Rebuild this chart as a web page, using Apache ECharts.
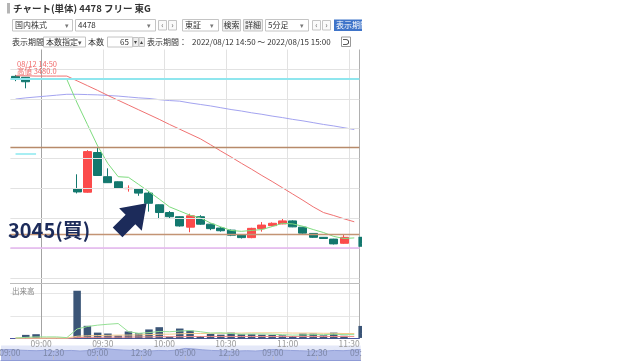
<!DOCTYPE html>
<html><head><meta charset="utf-8">
<script src="https://cdn.jsdelivr.net/npm/echarts@6/dist/echarts.min.js"></script>
<style>html,body{margin:0;padding:0;background:#fff;width:640px;height:364px;overflow:hidden}
#c{position:absolute;left:0;top:0;width:362px;height:364px;}</style></head>
<body><div id="c"></div>
<script>
// ---- data ----
const categories = ['14:50','14:55','15:00','09:00','09:05','09:10','09:15','09:20','09:25','09:30','09:35','09:40','09:45','09:50','09:55','10:00','10:05','10:10','10:15','10:20','10:25','10:30','10:35','10:40','10:45','10:50','10:55','11:00','11:05','11:10','11:15','11:20','11:25','11:30'];
const openP  = [3475,3472,3466,null,null,null,3099,3087,3220,3139,3122,3099,3098,3084,3045,3019,3005,2970,3005,2980,2967,2960,2945,2935,2965,2975,2981,2991,2970,2949,2936,2930,2916,null];
const closeP = [3465,3457,3466,null,null,null,3088,3223,3143,3119,3100,3100,3084,3050,3019,3005,2974,3008,2980,2965,2958,2943,2935,2966,2977,2983,2991,2971,2950,2936,2932,2914,2936,null];
const lowP   = [3459,3435,3466,null,null,null,3083,3085,3142,3118,3099,3089,3075,3022,2997,2999,2972,2953,2978,2960,2955,2940,2932,2933,2955,2973,2980,2970,2948,2934,2931,2912,2914,null];
const highP  = [3480,3473,3466,null,null,null,3147,3228,3238,3167,3123,3110,3099,3090,3046,3024,3006,3015,3010,2982,2970,2962,2946,2968,2987,2986,3000,2993,2971,2950,2937,2931,2947,null];
const maShort = [3466,3465,3465,3465,3465,3465,3386,3314,3242,3183,3139,3137,3113,3089,3064,3038,3024,3010,3001,2984,2971,2959,2956,2959,2962,2972,2983,2981,2973,2962,2952,2939,2932,2934];
const maMid   = [3477,3477,3476,3476,3476,3476,3460,3444,3428,3411,3395,3379,3363,3347,3331,3314,3298,3282,3266,3246,3225,3205,3184,3164,3143,3123,3102,3081,3060,3038,3019,3009,2998,2988];
const maLong  = [3399,3403,3406,3409,3412,3415,3415,3414,3413,3411,3409,3406,3403,3401,3397,3394,3392,3386,3381,3376,3370,3364,3359,3353,3348,3342,3337,3331,3326,3320,3314,3309,3303,3297];
const volume  = [0,16,19,null,null,null,211,56,26,22,13,31,23,40,50,8,44,35,11,20,17,26,19,19,17,16,14,11,22,22,14,26,12,null];
const volMaShort = [2,5,7,7,7,4,42,53,59,63,66,30,23,26,31,30,33,35,30,24,25,22,19,20,20,19,17,15,16,17,17,19,17,17];
const volMaMid   = [2,2,2,2,2,2,10,12,13,14,15,15,16,17,19,19,21,22,22,23,23,24,24,25,25,25,25,24,24,24,23,23,22,22];
const volMaLong  = [1,1,1,1,1,1,4,5,5,6,6,6,7,7,8,8,8,9,9,9,9,9,9,9,9,9,9,9,9,9,9,9,9,9];
const priceGridLines = [2800,2900,3000,3100,3200,3300,3400,3500];
const prevCloseLine = 3467;
const refLineA = 3238;
const refLineB = 2946;
const refLineC = 2900;
const prevDayLine = 3215;
const lastPrice = 2921;
const lastVolume = 29;
const buyTime = '09:50';
const buyPrice = 3045;
const highLabelTime = '08/12 14:50';
const highLabelPrice = 3480.0;
const timeLabels = ['09:00','09:30','10:00','10:30','11:00','11:30'];
const sliderDays = ['08/09','08/10','08/11','08/12','08/15'];
const sliderTimes = ['09:00','09:30','10:00','10:30','11:00','12:30','13:00','13:30','14:00','14:30'];
const sliderVol = [0.7,0.72,0.68,0.66,0.64,0.67,0.62,0.64,0.66,0.62,0.65,0.82,0.78,0.72,0.68,0.66,0.64,0.62,0.66,0.64,0.68,0.8,0.76,0.7,0.66,0.64,0.62,0.62,0.64,0.62,0.66,0.72,0.68,0.66,0.64,0.62,0.64,0.62,0.66,0.64,0.68,0.72];

// ---- build ----
const F = '"Noto Sans CJK JP","Noto Sans",sans-serif';
const candleData = categories.map((_, i) => openP[i] == null ? '-' : [openP[i], closeP[i], lowP[i], highP[i]]);
const sliderCats = ['08/08 14:30'];
sliderDays.slice(0, 4).forEach(d => sliderTimes.forEach(t => sliderCats.push(d + ' ' + t)));
sliderCats.push(sliderDays[4] + ' 09:00');
const nullData = categories.map(() => '-');

function txt(x, y, s, size, color, weight, align) {
  return {type:'text', x:x, y:y, silent:true, z:100,
    style:{text:s, fontSize:size, fontFamily:F, fontWeight:weight||'normal', fill:color||'#333', align:align||'left', verticalAlign:'middle'}};
}
function box(x, y, w, h, fill, stroke) {
  return {type:'rect', silent:true, z:99, shape:{x:x, y:y, width:w, height:h},
    style:{fill:fill||'#fff', stroke:stroke||'#c4c4c4', lineWidth:1}};
}
const header = [
  {type:'rect', silent:true, z:99, shape:{x:7, y:3, width:3, height:10.5}, style:{fill:'#b5b5b5'}},
  txt(13, 8.5, 'チャート(単体) 4478 フリー 東G', 9.5, '#333', 'bold'),
  box(12.5, 19.5, 60, 11.5), txt(15, 25.3, '国内株式', 8), txt(65, 25.3, '▾', 7, '#777'),
  box(75.5, 19.5, 80, 11.5), txt(78, 25.3, '4478', 8), txt(147, 25.3, '▾', 7, '#777'),
  box(158.5, 20.5, 8, 9.5, '#fafafa'), txt(162.5, 25.3, '‹', 8, '#666', 'normal', 'center'),
  box(168.5, 20.5, 8, 9.5, '#fafafa'), txt(172.5, 25.3, '›', 8, '#666', 'normal', 'center'),
  box(182.5, 19.5, 36, 11.5), txt(185, 25.3, '東証', 8), txt(210, 25.3, '▾', 7, '#777'),
  box(222.5, 19.5, 18, 11.5, '#f0f0f0'), txt(231.5, 25.3, '検索', 8, '#333', 'normal', 'center'),
  box(243.5, 19.5, 19, 11.5, '#f0f0f0'), txt(253, 25.3, '詳細', 8, '#333', 'normal', 'center'),
  box(265.5, 19.5, 43, 11.5), txt(268, 25.3, '5分足', 8), txt(300, 25.3, '▾', 7, '#777'),
  box(312.5, 20.5, 8, 9.5, '#fafafa'), txt(316.5, 25.3, '‹', 8, '#666', 'normal', 'center'),
  box(322.5, 20.5, 8, 9.5, '#fafafa'), txt(326.5, 25.3, '›', 8, '#666', 'normal', 'center'),
  {type:'rect', silent:true, z:99, shape:{x:334, y:19.5, width:30, height:11.5}, style:{fill:'#3f74c9'}},
  txt(336, 25.3, '表示期間', 8, '#fff'),
  txt(12, 42, '表示期間', 8),
  box(43.5, 37, 42, 10), txt(46, 42, '本数指定', 8), txt(78, 42, '▾', 7, '#555'),
  txt(88, 42, '本数', 8),
  box(107.5, 37, 25, 10), txt(129, 42, '65', 8, '#333', 'normal', 'right'),
  box(133, 37.5, 5.5, 9, '#eee'), txt(135.8, 42, '▾', 6, '#444', 'normal', 'center'),
  box(139, 37.5, 5.5, 9, '#eee'), txt(141.8, 42, '▴', 6, '#444', 'normal', 'center'),
  txt(147, 42, '表示期間：', 8),
  txt(192, 42, '2022/08/12 14:50 ～ 2022/08/15 15:00', 8),
  box(341.5, 37, 9, 9.5, '#fff', '#999'), txt(346, 42, '⊃', 8, '#222', 'bold', 'center'),
  txt(17, 63.8, highLabelTime, 7.5, '#f06a6a'),
  txt(17, 71.3, '高値 ' + highLabelPrice.toFixed(1), 7.5, '#f06a6a'),
  txt(12, 291, '出来高', 7.5, '#888'),
  txt(8, 230, buyPrice + '(買)', 20, '#1c2b5a', 'bold')
];

const splitColors = ['#a3a3a3','#e2e2e2','#e2e2e2','#e2e2e2','#e2e2e2','#e2e2e2','#b0b0b0'];
const gridLeft = 10.4, gridW = 349;
const hiddenLine = {color:'rgba(0,0,0,0)', width:0};
const option = {
  animation: false,
  backgroundColor: '#fff',
  graphic: header,
  grid: [
    {left: gridLeft, top: 49.5, width: gridW, height: 233.5, containLabel:false, outerBoundsMode:'none'},
    {left: gridLeft, top: 283.5, width: gridW, height: 55, containLabel:false, outerBoundsMode:'none'},
    {left: 1.03, top: 345.5, width: 359.6, height: 14.5, containLabel:false, outerBoundsMode:'none', show:true, backgroundColor:'#e4e8f8', borderWidth:0}
  ],
  xAxis: [
    {gridIndex:0, type:'category', data:categories, boundaryGap:true,
      axisLine:{show:true, lineStyle:{color:'#bdbdbd'}}, axisTick:{show:false}, axisLabel:{show:false},
      splitLine:{show:true, interval:(i)=> i>=3 && (i-3)%6===0, lineStyle:{color:splitColors, width:1}}},
    {gridIndex:1, type:'category', data:categories, boundaryGap:true,
      axisLine:{show:true, lineStyle:{color:'#4b55a0'}}, axisTick:{show:false},
      axisLabel:{show:true, interval:(i, v)=> timeLabels.indexOf(v) >= 0 && i>=3, color:'#9a9a9a', fontSize:8.5, fontFamily:F, margin:1, padding:[0,10.3,0,0]},
      splitLine:{show:true, interval:(i)=> i>=3 && (i-3)%6===0, lineStyle:{color:splitColors, width:1}}},
    {gridIndex:2, type:'category', data:sliderCats, boundaryGap:false, position:'top', z:10,
      axisLine:{show:true, lineStyle:{color:'#d8ddf3'}},
      axisTick:{show:true, inside:false, length:4, lineStyle:{color:'#bcbccc'}},
      axisLabel:{show:true, inside:true, margin:3, interval:(i, v)=> /(09:00|12:30)$/.test(v), formatter:(v)=> v.slice(6), color:'#7c86a6', fontSize:8.5, fontFamily:F},
      splitLine:{show:false}},
    {gridIndex:2, type:'category', data:sliderCats, boundaryGap:false, position:'bottom', z:10,
      axisLine:{show:true, lineStyle:{color:'#8f9bd6'}}, axisTick:{show:false}, axisLabel:{show:false}}
  ],
  yAxis: [
    {gridIndex:0, type:'value', min:2783, max:3565, position:'right', axisLine:{show:false}, axisTick:{show:false}, axisLabel:{show:false}, splitLine:{show:false}},
    {gridIndex:1, type:'value', min:0, max:243, interval:100, position:'right', axisLine:{show:false}, axisTick:{show:false}, axisLabel:{show:false}, splitLine:{show:true, lineStyle:{color:'#e6e6e6'}}},
    {gridIndex:2, type:'value', min:0, max:1, show:false}
  ],
  series: [
    {type:'line', xAxisIndex:0, yAxisIndex:0, data:nullData, z:1, silent:true, symbol:'none',
      markLine:{silent:true, symbol:['none','none'], label:{show:false}, animation:false,
        lineStyle:{color:'#e2e2e2', width:1, type:'solid'}, data:priceGridLines.map(v=>({yAxis:v}))}},
    {type:'line', xAxisIndex:0, yAxisIndex:0, data:nullData, z:2, silent:true, symbol:'none',
      markLine:{silent:true, symbol:['none','none'], label:{show:false}, animation:false,
        data:[
          {yAxis:prevCloseLine, lineStyle:{color:'#8fe6ee', width:1.8, type:'solid'}},
          {yAxis:refLineA, lineStyle:{color:'#b78a6a', width:1.3, type:'solid'}},
          {yAxis:refLineB, lineStyle:{color:'#c39474', width:1.3, type:'solid'}},
          {yAxis:refLineC, lineStyle:{color:'#e4b6ef', width:1.5, type:'solid'}},
          [{coord:[categories[0], prevDayLine], lineStyle:{color:'#9fecf2', width:1.8, type:'solid'}}, {coord:[categories[2], prevDayLine]}]
        ]}},
    {type:'candlestick', name:'price', xAxisIndex:0, yAxisIndex:0, data:candleData, z:3, barWidth:8.5,
      itemStyle:{color:'#fb4b4b', color0:'#13786e', borderColor:'#fb4b4b', borderColor0:'#13786e', borderWidth:1},
      markLine:{silent:true, symbol:['none','none'], animation:false,
        data:[{yAxis:lastPrice, lineStyle:hiddenLine, label:{show:true, position:'end', distance:-1, formatter:String(lastPrice), backgroundColor:'#13786e', color:'#fff', fontSize:8, padding:[1,3], opacity:1}}]},
      markPoint:{silent:true, animation:false,
        data:[{coord:[buyTime, buyPrice], symbol:'path://M0,0 L17.5,25 L7.5,25 L7.5,45 L-7.5,45 L-7.5,25 L-17.5,25 Z',
          symbolSize:[32,41], symbolRotate:-45, symbolOffset:[-16.9,13.1], itemStyle:{color:'#1c2b5a'}, label:{show:false}}]}},
    {type:'line', xAxisIndex:0, yAxisIndex:0, data:maLong, z:4, symbol:'none', silent:true, lineStyle:{color:'#a3a3f0', width:1}},
    {type:'line', xAxisIndex:0, yAxisIndex:0, data:maMid, z:4, symbol:'none', silent:true, lineStyle:{color:'#f07272', width:1}},
    {type:'line', xAxisIndex:0, yAxisIndex:0, data:maShort, z:4, symbol:'none', silent:true, lineStyle:{color:'#7edc7e', width:1}},
    {type:'bar', xAxisIndex:1, yAxisIndex:1, data:volume, z:2, barWidth:7.5, silent:true, itemStyle:{color:'#3b5577'},
      markLine:{silent:true, symbol:['none','none'], animation:false,
        data:[{yAxis:lastVolume, lineStyle:hiddenLine, label:{show:true, position:'end', distance:-1, formatter:String(lastVolume), backgroundColor:'#3b5577', color:'#fff', fontSize:8, padding:[2,3], opacity:1}}]}},
    {type:'line', xAxisIndex:1, yAxisIndex:1, data:volMaLong, z:3, symbol:'none', silent:true, lineStyle:{color:'#f08a8a', width:1}},
    {type:'line', xAxisIndex:1, yAxisIndex:1, data:volMaMid, z:3, symbol:'none', silent:true, lineStyle:{color:'#f3c98c', width:1}},
    {type:'line', xAxisIndex:1, yAxisIndex:1, data:volMaShort, z:3, symbol:'none', silent:true, lineStyle:{color:'#94e094', width:1}},
    {type:'line', xAxisIndex:2, yAxisIndex:2, data:sliderVol, z:1, symbol:'none', silent:true,
      lineStyle:{color:'#95a2da', width:1}, areaStyle:{color:'#adb8e6', opacity:1}}
  ]
};
const chart = echarts.init(document.getElementById('c'), null, {renderer:'canvas'});
chart.setOption(option);
</script>
</body></html>
